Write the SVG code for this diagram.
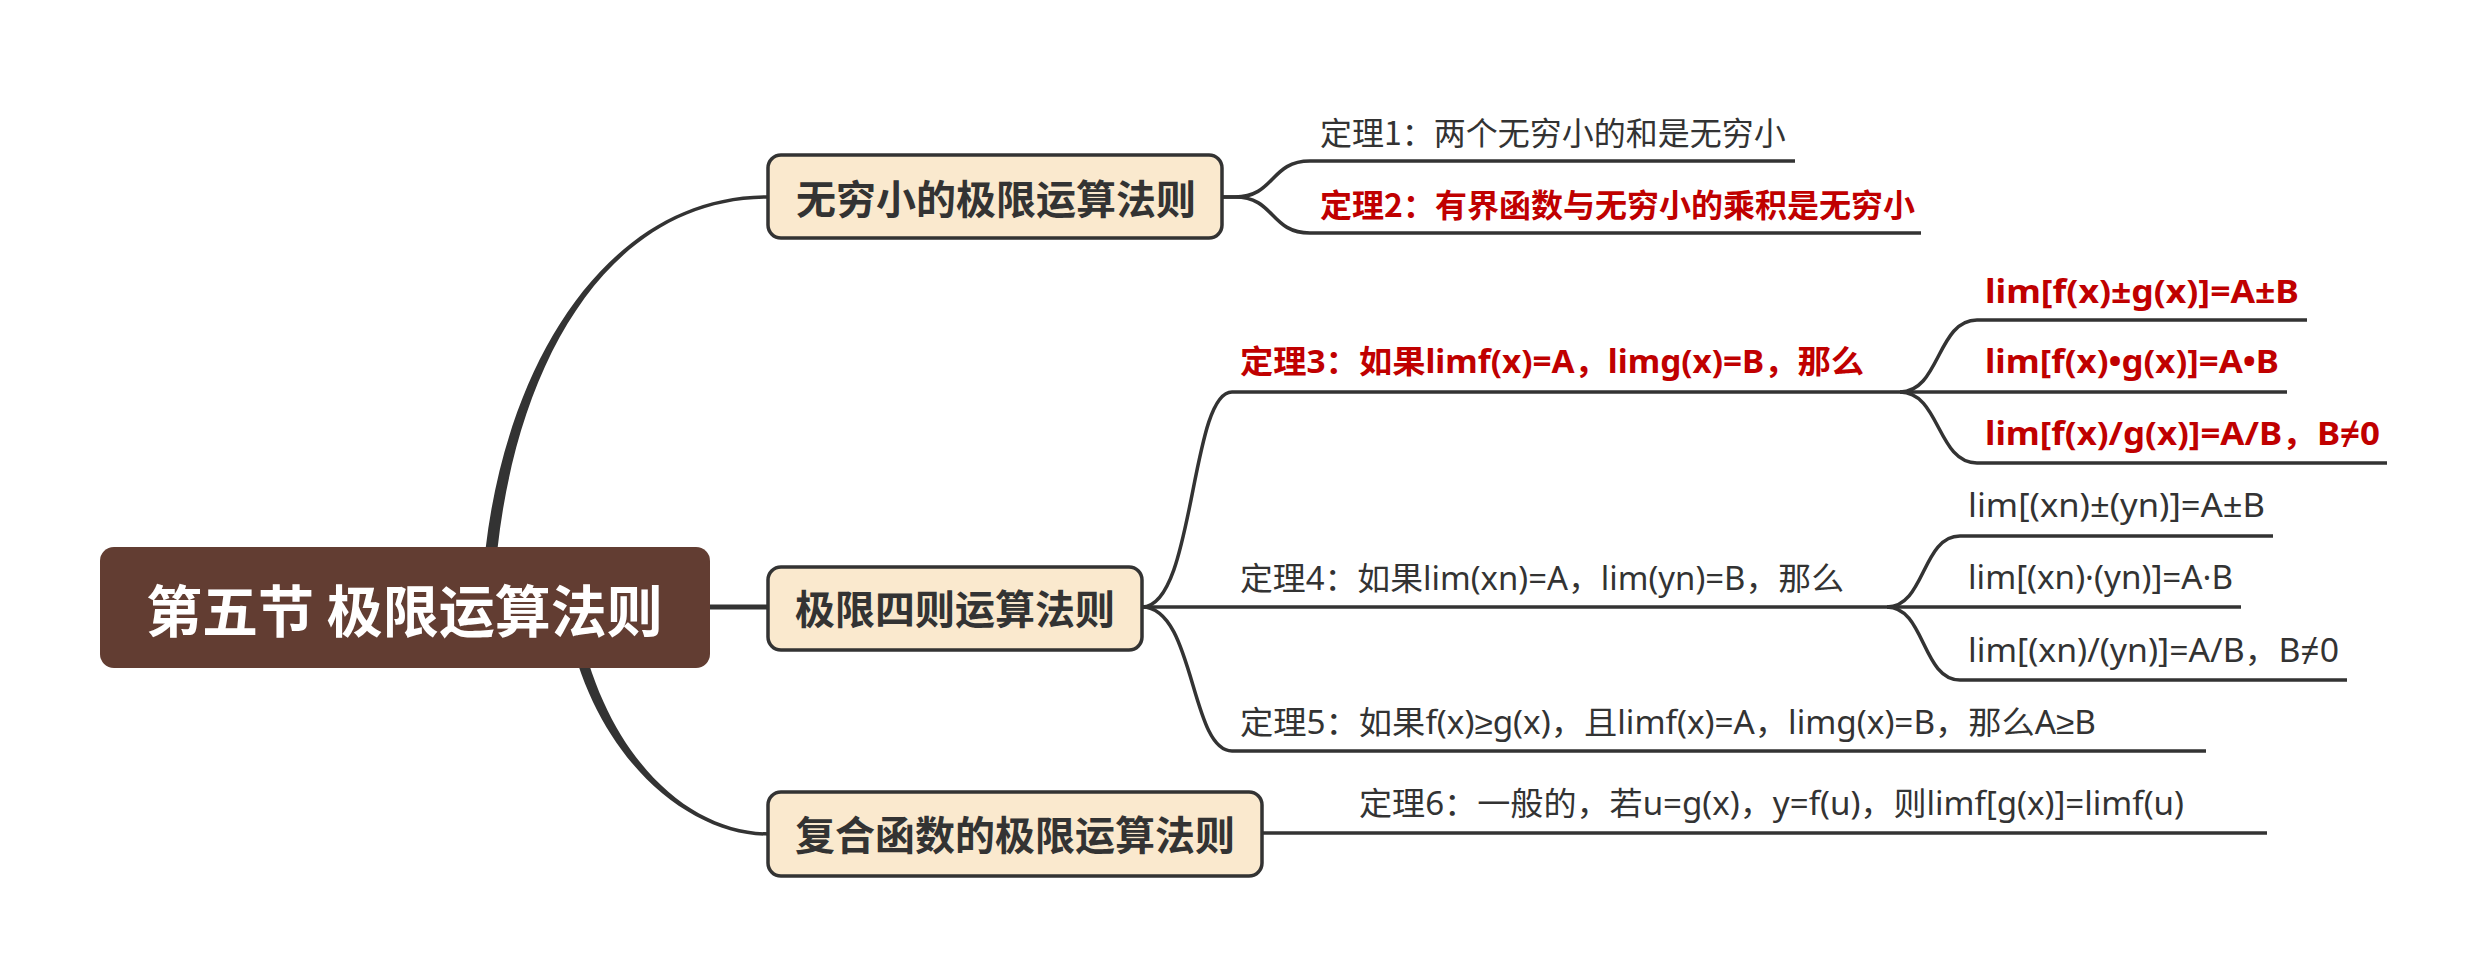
<svg xmlns="http://www.w3.org/2000/svg" width="2488" height="978" viewBox="0 0 2488 978">
<style>
.ln{fill:none;stroke:#333333;stroke-width:3.5;stroke-linecap:butt}
.tp{fill:#333333;stroke:none}
.box{fill:#FAE9CE;stroke:#333333;stroke-width:3.5}
.root{fill:#623D32}
.t{font-family:"Noto Sans CJK SC","Noto Sans",sans-serif}
.m{font-family:"Noto Sans","Liberation Sans","DejaVu Sans","Noto Sans CJK SC",sans-serif}
.rt{font-size:56px;font-weight:700;fill:#FFFFFF}
.bt{font-size:40px;font-weight:700;fill:#333333}
.g{font-size:32px;font-weight:400;fill:#333333}
.r{font-size:32px;font-weight:700;fill:#C00000}
</style>
<rect width="2488" height="978" fill="#FFFFFF"/>
<g id="connectors">
  <path class="tp" d="M 482 589.7 C 494 379.7, 600 195.25, 768 195.25 L 768 198.75 C 600 198.75, 506 380.3, 494 590.3 Z"/>
  <path class="tp" d="M 566.6 621.1 C 594.6 761.1, 690 835.75, 768 835.75 L 768 832.25 C 690 832.25, 605.4 758.9, 577.4 618.9 Z"/>
  <path class="ln" style="stroke-width:5" d="M 700 607 L 770 607"/>
  <path class="ln" d="M 1222 197 L 1235 197 C 1275 197, 1270 161, 1310 161 L 1795 161"/>
  <path class="ln" d="M 1222 197 L 1235 197 C 1275 197, 1270 233, 1310 233 L 1921 233"/>
  <path class="ln" d="M 1142 607 C 1195 607, 1190 392, 1232 392 L 1900 392"/>
  <path class="ln" d="M 1900 392 C 1940 392, 1937 320, 1977 320 L 2307 320"/>
  <path class="ln" d="M 1900 392 L 2287 392"/>
  <path class="ln" d="M 1900 392 C 1940 392, 1937 463, 1977 463 L 2387 463"/>
  <path class="ln" d="M 1142 607 L 1887 607"/>
  <path class="ln" d="M 1887 607 C 1925 607, 1922 536, 1960 536 L 2273 536"/>
  <path class="ln" d="M 1887 607 L 2241 607"/>
  <path class="ln" d="M 1887 607 C 1925 607, 1922 680, 1960 680 L 2347 680"/>
  <path class="ln" d="M 1142 607 C 1195 607, 1190 751, 1232 751 L 2206 751"/>
  <path class="ln" d="M 1262 833 L 2267 833"/>
</g>
<g id="root">
  <rect class="root" x="100" y="547" width="610" height="121" rx="14"/>
  <text class="t rt" x="146" y="632">第五节 极限运算法则</text>
</g>
<g id="n1">
  <rect class="box" x="768" y="155" width="454" height="83" rx="13"/>
  <text class="t bt" x="796" y="214">无穷小的极限运算法则</text>
</g>
<g id="n2">
  <rect class="box" x="768" y="567" width="374" height="83" rx="13"/>
  <text class="t bt" x="795" y="624">极限四则运算法则</text>
</g>
<g id="n3">
  <rect class="box" x="768" y="792" width="494" height="84" rx="13"/>
  <text class="t bt" x="795" y="850">复合函数的极限运算法则</text>
</g>
<g id="t1"><text class="t g" x="1320" y="145">定理1：两个无穷小的和是无穷小</text></g>
<g id="t2"><text class="t r" x="1320" y="217">定理2：有界函数与无穷小的乘积是无穷小</text></g>
<g id="t3"><text class="m r" x="1240" y="373" textLength="624" lengthAdjust="spacingAndGlyphs">定理3：如果limf(x)=A，limg(x)=B，那么</text></g>
<g id="t3a"><text class="m r" x="1985" y="303" textLength="314" lengthAdjust="spacingAndGlyphs">lim[f(x)±g(x)]=A±B</text></g>
<g id="t3b"><text class="m r" x="1985" y="373" textLength="294" lengthAdjust="spacingAndGlyphs">lim[f(x)•g(x)]=A•B</text></g>
<g id="t3c"><text class="m r" x="1985" y="445" textLength="395" lengthAdjust="spacingAndGlyphs">lim[f(x)/g(x)]=A/B，B≠0</text></g>
<g id="t4"><text class="m g" x="1240" y="590" textLength="604" lengthAdjust="spacingAndGlyphs">定理4：如果lim(xn)=A，lim(yn)=B，那么</text></g>
<g id="t4a"><text class="m g" x="1968" y="517" textLength="297" lengthAdjust="spacingAndGlyphs">lim[(xn)±(yn)]=A±B</text></g>
<g id="t4b"><text class="m g" x="1968" y="589" textLength="265" lengthAdjust="spacingAndGlyphs">lim[(xn)·(yn)]=A·B</text></g>
<g id="t4c"><text class="m g" x="1968" y="662" textLength="371" lengthAdjust="spacingAndGlyphs">lim[(xn)/(yn)]=A/B，B≠0</text></g>
<g id="t5"><text class="m g" x="1240" y="734" textLength="856" lengthAdjust="spacingAndGlyphs">定理5：如果f(x)≥g(x)，且limf(x)=A，limg(x)=B，那么A≥B</text></g>
<g id="t6"><text class="m g" x="1359" y="815" textLength="825" lengthAdjust="spacingAndGlyphs">定理6：一般的，若u=g(x)，y=f(u)，则limf[g(x)]=limf(u)</text></g>
</svg>
